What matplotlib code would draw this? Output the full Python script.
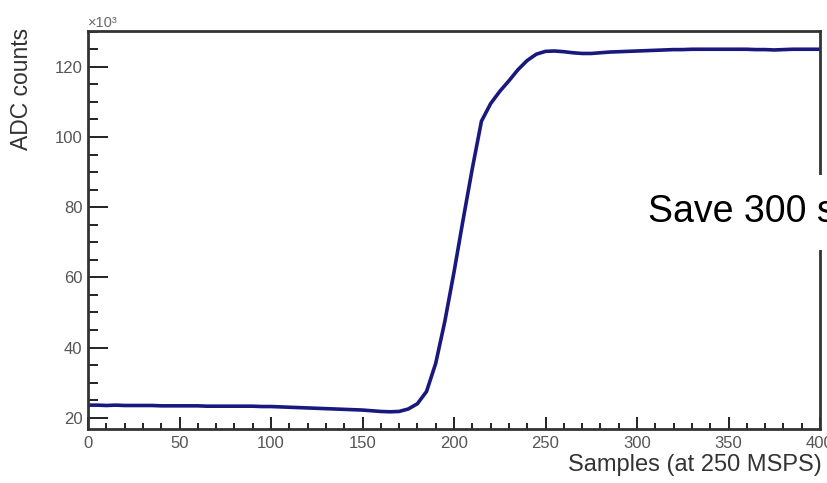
import matplotlib
matplotlib.use("Agg")
import matplotlib.pyplot as plt
from matplotlib.patches import Rectangle
from matplotlib.ticker import MultipleLocator

plt.rcParams["font.family"] = ["Liberation Sans", "DejaVu Sans"]

# Digitised waveform: sample index and ADC counts (in units of 10^3)
samples = list(range(0, 401, 5))
adc_counts_k = [
    23.6, 23.6, 23.5, 23.6, 23.5, 23.5, 23.5, 23.5, 23.4, 23.4,
    23.4, 23.4, 23.4, 23.3, 23.3, 23.3, 23.3, 23.3, 23.3, 23.2,
    23.2, 23.1, 23.0, 22.9, 22.8, 22.7, 22.6, 22.5, 22.4, 22.3,
    22.2, 22.0, 21.8, 21.7, 21.8, 22.5, 24.0, 27.5, 35.5, 47.5,
    61.5, 76.5, 91.0, 104.5, 109.5, 113.0, 116.0, 119.2, 121.8, 123.6,
    124.4, 124.5, 124.3, 124.0, 123.8, 123.8, 124.0, 124.2, 124.3, 124.4,
    124.5, 124.6, 124.7, 124.8, 124.9, 124.9, 125.0, 125.0, 125.0, 125.0,
    125.0, 125.0, 125.0, 124.9, 124.9, 124.8, 124.9, 125.0, 125.0, 125.0,
    125.0,
]

x_label = "Samples (at 250 MSPS)"
y_label = "ADC counts"
note = "Save 300 samples"

W, H = 827, 483
fig = plt.figure(figsize=(W / 100, H / 100), dpi=100)
fig.patch.set_facecolor("white")

ax_l, ax_r, ax_t, ax_b = 88, 820, 31, 429
ax = fig.add_axes([ax_l / W, 1 - ax_b / H, (ax_r - ax_l) / W, (ax_b - ax_t) / H])

ax.plot(samples, adc_counts_k, color="#18187e", lw=2.6, solid_joinstyle="round")

ax.set_xlim(0, 400)
ax.set_ylim(16.8, 130.2)

ax.xaxis.set_major_locator(MultipleLocator(50))
ax.xaxis.set_minor_locator(MultipleLocator(10))
ax.yaxis.set_major_locator(MultipleLocator(20))
ax.yaxis.set_minor_locator(MultipleLocator(5))

ax.tick_params(axis="both", which="both", direction="in", top=False, right=False,
               color="#222222", width=1.4, labelcolor="#555555", labelsize=12)
ax.tick_params(axis="x", which="major", length=8.5, pad=5)
ax.tick_params(axis="x", which="minor", length=4.3)
ax.tick_params(axis="y", which="major", length=14.4, pad=4)
ax.tick_params(axis="y", which="minor", length=7.2)

for s in ax.spines.values():
    s.set_color("#333333")
    s.set_linewidth(2.0)

ax.set_xlabel(x_label, fontsize=17, color="#333333", ha="right", va="baseline")
ax.xaxis.set_label_coords(1.0027, (ax_b - 471) / (ax_b - ax_t))
ax.set_ylabel(y_label, fontsize=16.5, color="#333333")
ax.yaxis.set_label_coords((33 - ax_l) / (ax_r - ax_l), (ax_b - 89) / (ax_b - ax_t))

ax.text(0.0, 1.003, "×10³", transform=ax.transAxes, fontsize=10.5, color="#666666",
        ha="left", va="bottom")

# Annotation panel over the right side of the frame
fig.patches.append(Rectangle((630 / W, 1 - 250 / H), (W - 630) / W, 75 / H,
                             transform=fig.transFigure, facecolor="white",
                             edgecolor="none", zorder=5))
fig.text(648 / W, 1 - 222 / H, note, fontsize=27, color="black",
         ha="left", va="baseline", zorder=6)

fig.savefig("out.png", dpi=100)
